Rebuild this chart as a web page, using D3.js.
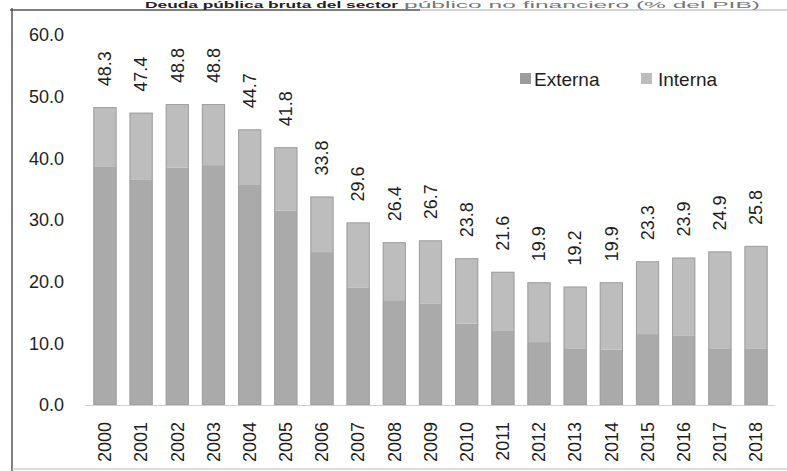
<!DOCTYPE html>
<html>
<head>
<meta charset="utf-8">
<script src="https://cdn.jsdelivr.net/npm/d3@7"></script>
<style>
  html, body { margin: 0; padding: 0; background: #fff; }
  svg { display: block; font-family: "Liberation Sans", Arial, sans-serif; }
</style>
</head>
<body>
<svg id="chart" width="787" height="471"></svg>
<script>
// Deuda pública bruta del sector público (% del PIB)
const years = ["2000","2001","2002","2003","2004","2005","2006","2007","2008","2009",
               "2010","2011","2012","2013","2014","2015","2016","2017","2018"];
const totals = [48.3, 47.4, 48.8, 48.8, 44.7, 41.8, 33.8, 29.6, 26.4, 26.7,
                23.8, 21.6, 19.9, 19.2, 19.9, 23.3, 23.9, 24.9, 25.8];
const externa = [38.6, 36.6, 38.5, 38.9, 35.8, 31.5, 24.8, 19.0, 17.0, 16.4,
                 13.2, 12.0, 10.2, 9.2, 9.0, 11.5, 11.2, 9.2, 9.2];
const interna = totals.map((t, i) => +(t - externa[i]).toFixed(1));
const yTicks = [0, 10, 20, 30, 40, 50, 60];
const seriesNames = ["Externa", "Interna"];
const seriesColors = ["#aaaaaa", "#bdbdbd"];

const svg = d3.select("#chart");

const x = d3.scaleBand().domain(years).range([75.3, 785.7])
  .paddingInner(0.36).paddingOuter(0.5);
const y = d3.scaleLinear().domain([0, 60]).range([405, 35]);

// outer frame of the figure box
svg.append("line").attr("x1", 12).attr("x2", 12).attr("y1", 8).attr("y2", 471)
  .attr("stroke", "#555").attr("stroke-width", 1.5);
svg.append("line").attr("x1", 10).attr("x2", 420).attr("y1", 10).attr("y2", 10)
  .attr("stroke", "#555").attr("stroke-width", 1.3);
svg.append("line").attr("x1", 420).attr("x2", 787).attr("y1", 10).attr("y2", 10)
  .attr("stroke", "#aaa").attr("stroke-width", 1);
svg.append("line").attr("x1", 12).attr("x2", 787).attr("y1", 469).attr("y2", 469)
  .attr("stroke", "#bbb").attr("stroke-width", 1);

// title row along the top edge
svg.append("text").attr("x", 145).attr("y", 8)
  .attr("font-size", 9).attr("font-weight", "bold").attr("fill", "#222")
  .attr("textLength", 253).attr("lengthAdjust", "spacingAndGlyphs")
  .text("Deuda pública bruta del sector");
svg.append("text").attr("x", 404).attr("y", 8)
  .attr("font-size", 9).attr("fill", "#777")
  .attr("textLength", 356).attr("lengthAdjust", "spacingAndGlyphs")
  .text("público no financiero (% del PIB)");

// y axis labels
const yAxis = d3.axisLeft(y).tickValues(yTicks).tickFormat(d3.format(".1f"))
  .tickSize(0).tickPadding(0);
svg.append("g").attr("transform", "translate(64,0)").call(yAxis)
  .call(g => g.select(".domain").remove())
  .call(g => g.selectAll("text").attr("font-size", 18).attr("fill", "#1e1e1e")
    .attr("font-family", "Liberation Sans, Arial, sans-serif"));

// baseline
svg.append("line").attr("x1", 85).attr("x2", 775).attr("y1", y(0) + 0.5).attr("y2", y(0) + 0.5)
  .attr("stroke", "#d0d0d0").attr("stroke-width", 1);

// stacked bars
const rows = years.map((yr, i) => ({ year: yr, Externa: externa[i], Interna: interna[i], total: totals[i] }));
const stack = d3.stack().keys(seriesNames)(rows);
svg.append("g").selectAll("g").data(stack).join("g")
  .attr("fill", (d, i) => seriesColors[i])
  .selectAll("rect").data(d => d).join("rect")
  .attr("x", d => x(d.data.year))
  .attr("width", x.bandwidth())
  .attr("y", d => y(d[1]))
  .attr("height", d => y(d[0]) - y(d[1]));

// bar outlines
svg.append("g").selectAll("rect").data(rows).join("rect")
  .attr("x", d => x(d.year) + 0.5)
  .attr("width", x.bandwidth() - 1)
  .attr("y", d => y(d.total) + 0.5)
  .attr("height", d => y(0) - y(d.total) - 1)
  .attr("fill", "none").attr("stroke", "#a0a0a0").attr("stroke-width", 1);

// total labels, rotated above each bar
svg.append("g").selectAll("text").data(rows).join("text")
  .attr("transform", d => `translate(${x(d.year) + x.bandwidth() / 2},${y(d.total) - 21}) rotate(-90)`)
  .attr("dy", "0.35em")
  .attr("font-size", 18).attr("fill", "#1e1e1e")
  .text(d => d.total.toFixed(1));

// x axis year labels
const xAxis = d3.axisBottom(x).tickSize(0).tickPadding(0);
svg.append("g").attr("transform", "translate(0,422)").call(xAxis)
  .call(g => g.select(".domain").remove())
  .call(g => g.selectAll("text")
    .attr("font-size", 18).attr("fill", "#1e1e1e")
    .attr("font-family", "Liberation Sans, Arial, sans-serif")
    .attr("text-anchor", "end")
    .attr("transform", "rotate(-90)")
    .attr("x", 0).attr("y", 0).attr("dy", "0.35em"));

// legend
const legendPos = [{ sx: 520, tx: 534 }, { sx: 641, tx: 658 }];
const legend = svg.append("g").selectAll("g").data(seriesNames).join("g");
legend.append("rect")
  .attr("x", (d, i) => legendPos[i].sx).attr("y", 73)
  .attr("width", 11).attr("height", 11)
  .attr("fill", (d, i) => i === 0 ? "#9c9c9c" : "#bdbdbd");
legend.append("text")
  .attr("x", (d, i) => legendPos[i].tx).attr("y", 86)
  .attr("font-size", 19).attr("fill", "#1e1e1e")
  .text(d => d);
</script>
</body>
</html>
